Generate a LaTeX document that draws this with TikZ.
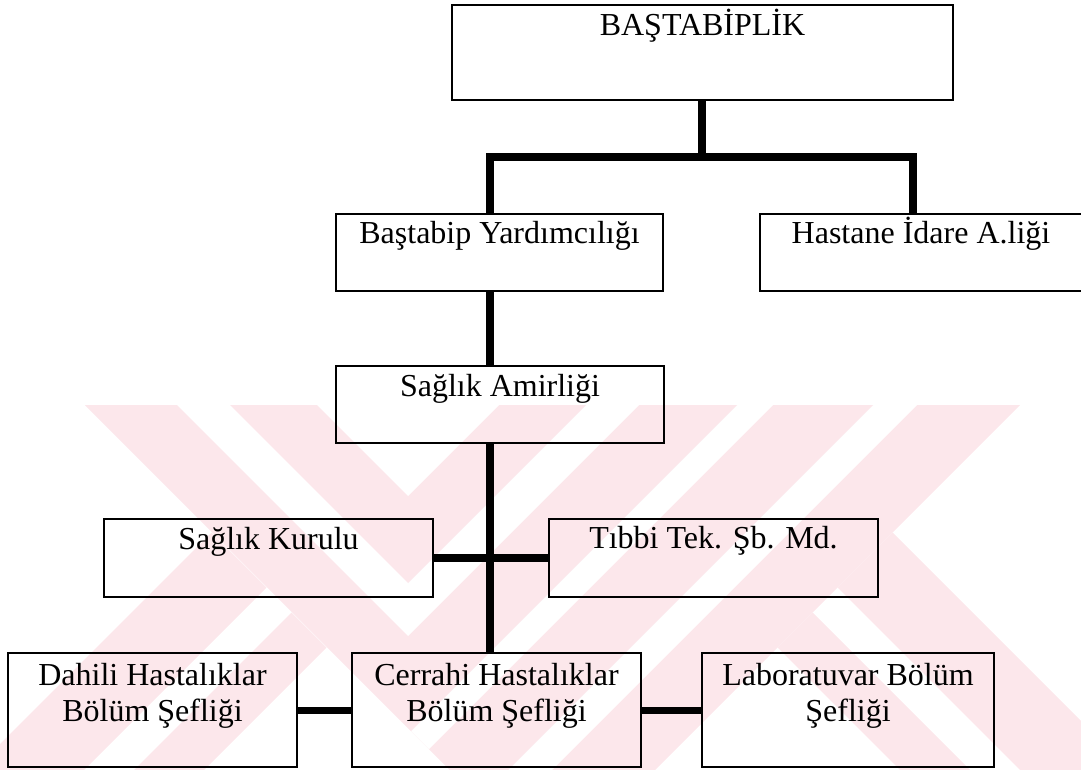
\documentclass[tikz,border=0pt]{standalone}
\usepackage{fontspec}
\setmainfont{Liberation Serif}
\usetikzlibrary{positioning}
\definecolor{markpink}{RGB}{252,231,235}

\begin{document}
\begin{tikzpicture}[x=0.5pt, y=-0.5pt,
    unitbox/.style={draw=black, line width=1pt, inner sep=0pt, minimum height=38.5pt},
    caption/.style={anchor=base, align=center, inner sep=0pt, font=\fontsize{16}{18}\selectfont},
    bus/.style={line width=4pt},
    link/.style={line width=3.5pt}]
    \useasboundingbox (0,0) rectangle (1081,770);

    % watermark behind the chart
    \begin{scope}
        \clip (85,405) -- (1020,405) -- (655,770) -- (450,770) -- cycle;
        \fill[markpink] (85,405) -- (1020,405) -- (655,770) -- (450,770) -- cycle;
        \fill[white] (85,405) -- (501,821) -- (917,405) -- cycle;
        \fill[markpink] (85,405) -- (479,799) -- (873,405) -- cycle;
        \fill[white] (85,405) -- (429,749) -- (773,405) -- cycle;
        \fill[markpink] (85,405) -- (411,731) -- (737,405) -- cycle;
        \fill[white] (177,405) -- (408,636) -- (639,405) -- cycle;
        \fill[markpink] (230,405) -- (408,583) -- (586,405) -- cycle;
        \fill[white] (317,405) -- (408,496) -- (499,405) -- cycle;
    \end{scope}
    \begin{scope}
        \clip (0,405) rectangle (1081,770);
        \fill[markpink] (291.5,612.5) -- (326.5,647.5) -- (204,770) -- (134,770) -- cycle;
        \fill[markpink] (211.5,532.5) -- (266.5,587.5) -- (84,770) -- (-26,770) -- cycle;
        \fill[markpink] (812.5,612.5) -- (777.5,647.5) -- (900,770) -- (970,770) -- cycle;
        \fill[markpink] (837.5,587.5) -- (892.5,532.5) -- (1130,770) -- (1020,770) -- cycle;
    \end{scope}

    % boxes
    \node[unitbox, minimum width=250.5pt, minimum height=47.5pt] (bas) at (702.5,52.5) {};
    \node[unitbox, minimum width=163.5pt] (yrd) at (499.5,252.5) {};
    \node[unitbox, minimum width=161pt, right=47.5pt of yrd] (idr) {};
    \node[unitbox, minimum width=164pt] (amr) at (500,404.5) {};
    \node[unitbox, minimum width=164.5pt, minimum height=39pt] (krl) at (268.5,558) {};
    \node[unitbox, minimum width=164.5pt, minimum height=39pt, right=57pt of krl] (tbb) {};
    \node[unitbox, minimum width=144.5pt, minimum height=57pt] (crr) at (496.5,710) {};
    \node[unitbox, minimum width=144.5pt, minimum height=57pt, left=26.5pt of crr] (dhl) {};
    \node[unitbox, minimum width=146pt, minimum height=57pt, right=29.5pt of crr] (lab) {};

    % texts
    \node[caption] (bas-t) at ([yshift=-16pt]bas.north) {BAŞTABİPLİK};
    \node[caption] (yrd-t) at ([yshift=-15pt]yrd.north) {Baştabip Yardımcılığı};
    \node[caption] (idr-t) at ([yshift=-15pt]idr.north) {Hastane İdare A.liği};
    \node[caption] (amr-t) at ([yshift=-15.5pt]amr.north) {Sağlık Amirliği};
    \node[caption] (krl-t) at ([yshift=-15.5pt]krl.north) {Sağlık Kurulu};
    \node[caption] (tbb-t) at ([yshift=-15pt]tbb.north) {Tıbbi Tek. Şb. Md.};
    \node[caption] (dhl-t) at ([yshift=-34.5pt]dhl.north) {Dahili Hastalıklar\\Bölüm Şefliği};
    \node[caption] (crr-t) at ([yshift=-34.5pt]crr.north) {Cerrahi Hastalıklar\\Bölüm Şefliği};
    \node[caption] (lab-t) at ([yshift=-34.5pt]lab.north) {Laboratuvar Bölüm\\Şefliği};

    % connectors
    \coordinate (fork) at (702,157);
    \coordinate (spine) at (490,157);
    \coordinate (arm) at (913,157);
    \draw[bus] (bas.south -| fork) -- (fork);
    \draw[bus] (yrd.north -| spine) -- (spine) -- (arm) -- (idr.north -| arm);
    \draw[bus] (yrd.south -| spine) -- (amr.north -| spine);
    \draw[bus] (amr.south -| spine) -- (crr.north -| spine);
    \draw[bus] (krl.east) -- (tbb.west);
    \draw[link] (dhl.east) -- (crr.west);
    \draw[link] (crr.east) -- (lab.west);
\end{tikzpicture}
\end{document}
